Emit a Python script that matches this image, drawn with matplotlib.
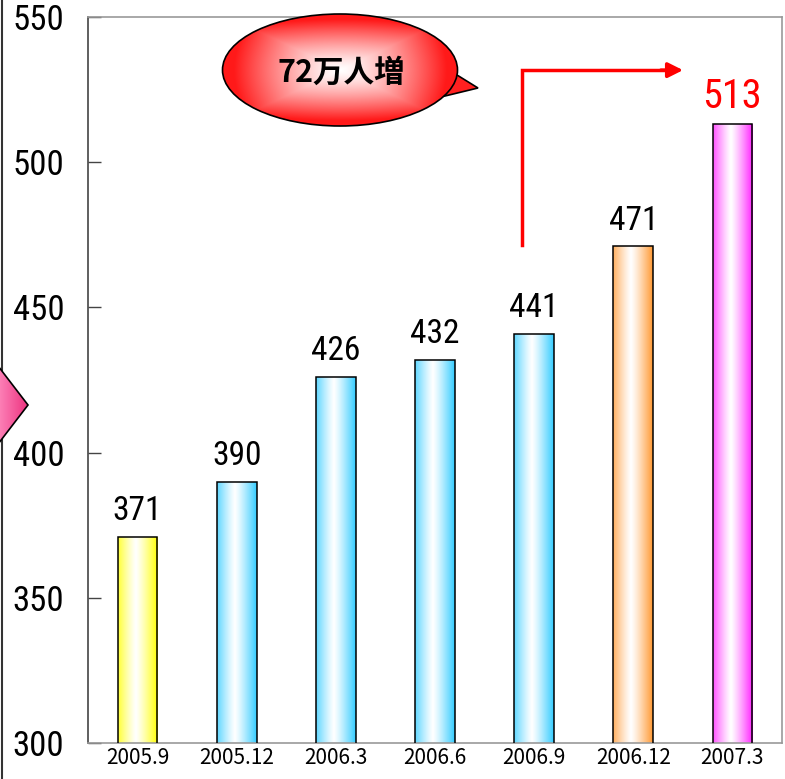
import numpy as np
import matplotlib
matplotlib.use("Agg")
import matplotlib.pyplot as plt
from matplotlib.patches import Ellipse, Polygon

# data
periods = ["2005.9", "2005.12", "2006.3", "2006.6", "2006.9", "2006.12", "2007.3"]
values = [371, 390, 426, 432, 441, 471, 513]
bar_colors = ["#ffff00", "#33ccff", "#33ccff", "#33ccff", "#33ccff", "#ff9933", "#ff22ff"]
callout_text = "72万人増"

narrow = ["Roboto Condensed", "DejaVu Sans"]
jp = ["Noto Sans CJK JP", "DejaVu Sans"]

W, H = 785, 779
fig = plt.figure(figsize=(W / 100, H / 100), dpi=100)
ax = fig.add_axes([88 / W, 1 - 743 / H, (782 - 88) / W, (743 - 17) / H])

x = np.arange(len(values))
bw = 0.4
bars = ax.bar(x, values, width=bw, bottom=0, color="none", edgecolor="black",
              linewidth=1.1, zorder=3)

# horizontal gradient fill: colour at edges, white near the middle
u = np.linspace(0, 1, 200)
mix = np.clip(np.abs(u - 0.45) / 0.55, 0, 1) ** 1.2
for i, (b, c) in enumerate(zip(bars, bar_colors)):
    rgb = np.array(matplotlib.colors.to_rgb(c))
    grad = (1 - mix)[:, None] * np.ones(3) + mix[:, None] * rgb
    im = ax.imshow(grad[None, :, :], extent=[x[i] - bw / 2, x[i] + bw / 2, 300, values[i]],
                   aspect="auto", zorder=2, interpolation="bilinear")
    im.set_clip_path(b)

ax.set_xlim(-0.5, len(values) - 0.5)
ax.set_ylim(300, 550)
ax.set_yticks(range(300, 551, 50))
ax.set_xticks(x)
ax.set_xticklabels(periods, fontsize=15, family=jp)
ax.tick_params(axis="x", length=0, pad=3)
ax.tick_params(axis="y", direction="in", length=9, width=1, color="#444444", pad=17,
               labelsize=25)
for lab in ax.get_yticklabels():
    lab.set_family(narrow)

ax.spines["left"].set_color("#444444")
ax.spines["left"].set_linewidth(1.2)
for s in ["top", "right", "bottom"]:
    ax.spines[s].set_color("#999999")
    ax.spines[s].set_linewidth(1.2)

# value labels
for i, v in enumerate(values):
    last = i == len(values) - 1
    ax.annotate(str(v), (x[i], v), xytext=(0, 12), textcoords="offset points",
                ha="center", va="baseline", family=narrow,
                fontsize=29 if last else 24, color="red" if last else "black")

# red step arrow
ax.plot([3.88, 3.88, 5.3], [471.5, 531.7, 531.7], color="red", lw=2.5, zorder=4,
        solid_joinstyle="miter")
ax.annotate("", xy=(5.53, 531.7), xytext=(5.25, 531.7),
            arrowprops=dict(arrowstyle="-|>,head_length=0.9,head_width=0.45",
                            color="red", lw=2.5))

# overlay in pixel coordinates for the decorations
ov = fig.add_axes([0, 0, 1, 1], zorder=5)
ov.set_xlim(0, W)
ov.set_ylim(H, 0)
ov.axis("off")

# left frame line and pink arrow head
ov.plot([1.5, 1.5], [0, H], color="#333333", lw=1.5)
arrow = Polygon([(-5, 362), (28, 405), (-5, 448)], closed=True, facecolor="none",
                edgecolor="black", lw=1.2, zorder=3)
ov.add_patch(arrow)
pink = np.linspace(0, 1, 100)[:, None] * (np.array([0.93, 0.2, 0.5]) - np.array([1.0, 0.55, 0.75])) \
    + np.array([1.0, 0.55, 0.75])
pim = ov.imshow(pink[None, :, :], extent=[-5, 28, 448, 362], aspect="auto", zorder=2)
pim.set_clip_path(arrow)

# speech bubble
cx, cy, ew, eh = 340, 70, 235, 112
tail = Polygon([(430, 80), (457, 75), (478, 88), (445, 96), (425, 100)], closed=True,
               facecolor="#ff2020", edgecolor="black", lw=1.2, zorder=2)
ov.add_patch(tail)
ell = Ellipse((cx, cy), ew, eh, facecolor="none", edgecolor="black", lw=1.2, zorder=4)
ov.add_patch(ell)
gx, gy = np.meshgrid(np.linspace(-1, 1, 200), np.linspace(-1, 1, 120))
r = np.clip(np.maximum(np.abs(gx), np.abs(gy)) * 0.75 + np.hypot(gx, gy) * 0.35, 0, 1) ** 1.3
red = np.array([1.0, 0.1, 0.1])
img = (1 - r)[..., None] * np.ones(3) + r[..., None] * red
eim = ov.imshow(img, extent=[cx - ew / 2, cx + ew / 2, cy + eh / 2, cy - eh / 2],
                aspect="auto", zorder=3, interpolation="bilinear")
eim.set_clip_path(ell)
ov.text(cx + 1, cy + 3, callout_text, ha="center", va="center", fontsize=22,
        fontweight="bold", family=jp, zorder=6)

fig.savefig("out.png", dpi=100)
